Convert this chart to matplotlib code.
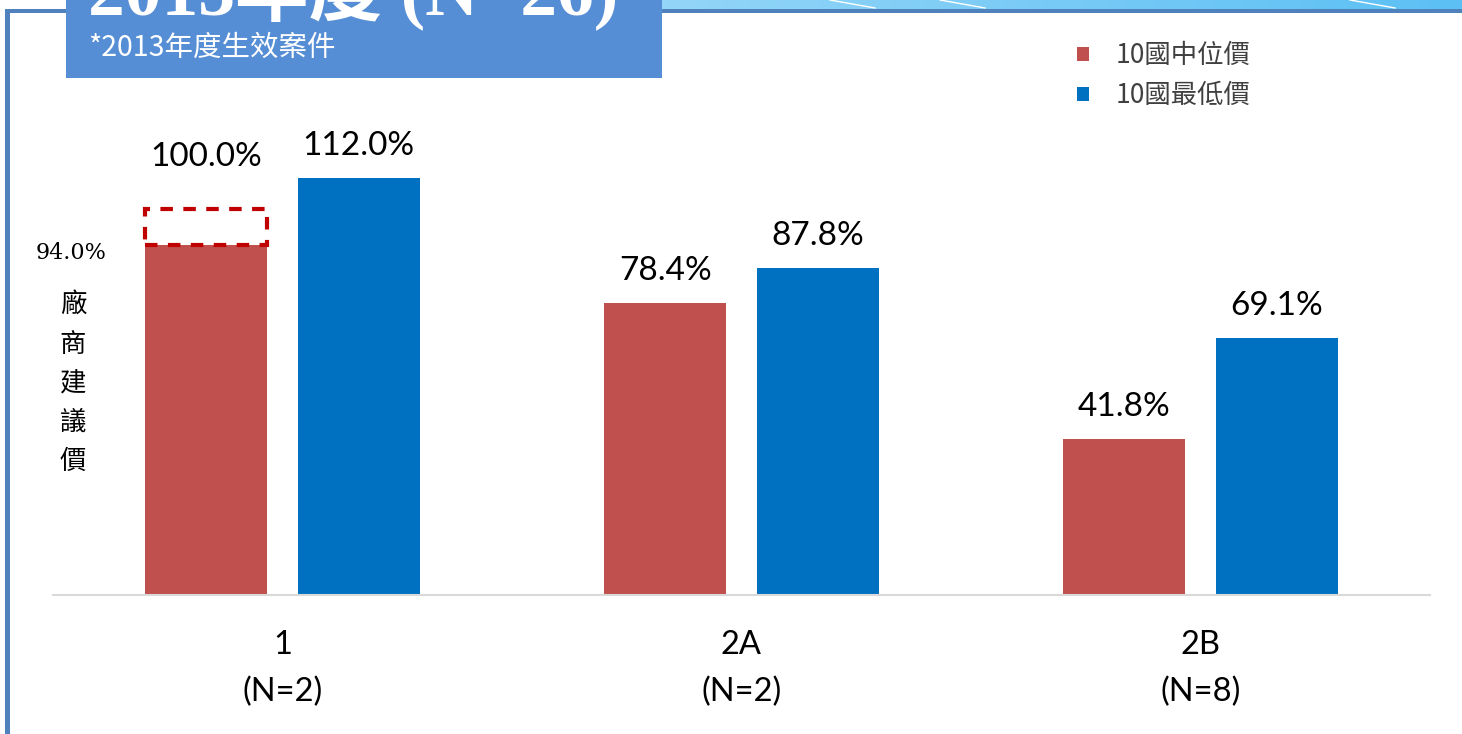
import numpy as np
import matplotlib.pyplot as plt
from matplotlib.patches import Rectangle
from matplotlib.colors import LinearSegmentedColormap

# chart data
categories = ['1\n(N=2)', '2A\n(N=2)', '2B\n(N=8)']
median_price = [94.0, 78.4, 41.8]
lowest_price = [112.0, 87.8, 69.1]
median_labels = ['100.0%', '78.4%', '41.8%']
lowest_labels = ['112.0%', '87.8%', '69.1%']
legend_names = ['10國中位價', '10國最低價']
proposal_label = '94.0%'
proposal_text = '廠商建議價'
title = '2013年度 (N=26)'
subtitle = '*2013年度生效案件'

RED = '#C0504D'
BLUE = '#0070C0'
W, H = 1462, 734

fig = plt.figure(figsize=(W / 100, H / 100), dpi=100)

# background / slide decoration in pixel coordinates
bg = fig.add_axes([0, 0, 1, 1], zorder=0)
bg.set_xlim(0, W)
bg.set_ylim(H, 0)
bg.axis('off')

grad = np.linspace(0, 1, 200).reshape(1, -1)
cmap = LinearSegmentedColormap.from_list('sky', ['#93d5f8', '#5cc0f4'])
bg.imshow(grad, cmap=cmap, extent=(662, W, 9, 0), aspect='auto')
for x0 in [830, 940, 1350]:
    bg.plot([x0, x0 + 45], [0, 8], color='white', lw=1)
bg.add_patch(Rectangle((5, 8.5), W, 4.5, color='#4F81BD', lw=0))
bg.add_patch(Rectangle((5, 8.5), 4.5, H, color='#4F81BD', lw=0))
bg.add_patch(Rectangle((66, -2), 596, 80, color='#558ED5', lw=0))
# title is cut off by the top of the slide in the original
bg.text(88, 14, title, color='white', fontsize=53, fontweight='bold',
        family=['Liberation Serif', 'Noto Sans CJK TC'], va='baseline')
bg.text(88, 48, subtitle, color='white', fontsize=20.5,
        family=['Noto Sans CJK TC', 'DejaVu Sans'], va='center')

bg.text(71, 253, proposal_label, fontsize=16, family='DejaVu Serif',
        va='center', ha='center', color='black')
for i, ch in enumerate(proposal_text):
    bg.text(73, 305 + i * 39, ch, fontsize=19, family='Noto Sans CJK TC',
            va='center', ha='center', color='black')

# main chart
ax = fig.add_axes([53 / W, (H - 595) / H, 1377 / W, 495 / H], zorder=1)
ax.patch.set_alpha(0)
x = np.arange(len(categories))
bw = 0.266
off = 0.166
b1 = ax.bar(x - off, median_price, bw, color=RED, label=legend_names[0])
b2 = ax.bar(x + off, lowest_price, bw, color=BLUE, label=legend_names[1])
ax.set_xlim(-0.5, 2.5)
ax.set_ylim(0, 495 / 3.723)

# dashed box above first red bar
dashed_top = 103.8
ax.add_patch(Rectangle((x[0] - off - bw / 2, median_price[0]), bw,
                       dashed_top - median_price[0], fill=False,
                       edgecolor='#C00000', lw=3, ls=(0, (3, 2.5)), zorder=3))

lab_font = dict(fontsize=24, family='Lato', ha='center', va='center', color='black')
for i in range(len(categories)):
    y_anchor = dashed_top if i == 0 else median_price[i]
    dy = 37 if i == 0 else 23
    ax.annotate(median_labels[i], (x[i] - off, y_anchor), xytext=(0, dy),
                textcoords='offset points', **lab_font)
    ax.annotate(lowest_labels[i], (x[i] + off, lowest_price[i]), xytext=(0, 23),
                textcoords='offset points', **lab_font)

for s in ['top', 'right', 'left']:
    ax.spines[s].set_visible(False)
ax.spines['bottom'].set_color('#d9d9d9')
ax.spines['bottom'].set_linewidth(1.5)
ax.set_yticks([])
ax.set_xticks(x)
ax.set_xticklabels(categories, fontsize=23.5, family='Lato', linespacing=1.68)
ax.tick_params(axis='x', length=0, pad=25)

ax.legend(handles=[b1, b2], loc='upper left', bbox_to_anchor=(1077 / W, 1 - 42 / H),
          bbox_transform=fig.transFigure, frameon=False, borderpad=0,
          borderaxespad=0, handlelength=0.45, handleheight=0.45,
          handletextpad=1.0, labelspacing=0.5,
          prop={'family': 'Noto Sans CJK TC', 'size': 19}, labelcolor='#404040')

fig.savefig('out.png', dpi=100)
